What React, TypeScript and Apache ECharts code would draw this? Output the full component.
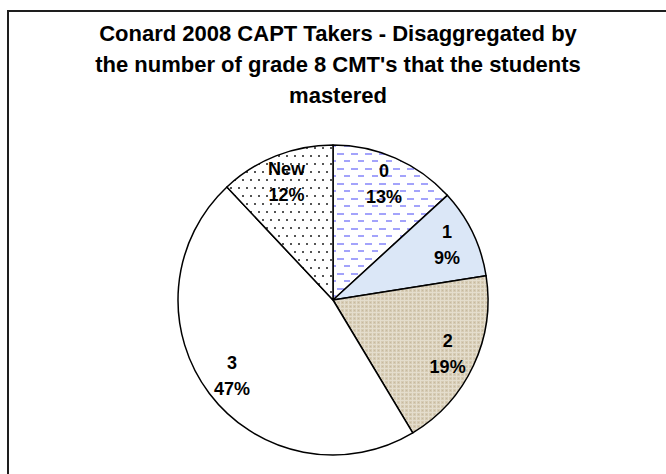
import React, { useEffect, useRef } from "react";
import * as echarts from "echarts";

const categories = ["0", "1", "2", "3", "New"];
const shares = [13.2, 9.3, 18.9, 46.6, 12.0];
const titleLines = [
  "Conard 2008 CAPT Takers - Disaggregated by",
  "the number of grade 8 CMT's that the students",
  "mastered",
];

function makeCanvas(w: number, h: number, draw: (ctx: CanvasRenderingContext2D) => void) {
  const c = document.createElement("canvas");
  c.width = w;
  c.height = h;
  const ctx = c.getContext("2d") as CanvasRenderingContext2D;
  draw(ctx);
  return c;
}

function makeFills() {
  const dashes = makeCanvas(14, 15, (ctx) => {
    ctx.fillStyle = "#ffffff";
    ctx.fillRect(0, 0, 14, 15);
    ctx.fillStyle = "#a3a3fb";
    ctx.fillRect(1, 3, 7, 2);
    ctx.fillRect(8, 10, 7, 2);
  });
  const dots = makeCanvas(8, 16, (ctx) => {
    ctx.fillStyle = "#ffffff";
    ctx.fillRect(0, 0, 8, 16);
    ctx.fillStyle = "#555555";
    ctx.fillRect(2, 3, 2, 2);
    ctx.fillRect(6, 11, 2, 2);
  });
  const burlap = makeCanvas(4, 4, (ctx) => {
    ctx.fillStyle = "#d6cbb4";
    ctx.fillRect(0, 0, 4, 4);
    ctx.fillStyle = "#e4ddcd";
    ctx.fillRect(0, 0, 1, 4);
    ctx.fillRect(0, 0, 4, 1);
    ctx.fillStyle = "#c6b99f";
    ctx.fillRect(2, 2, 1, 1);
  });
  return [
    { image: dashes, repeat: "repeat" },
    "#dbe7f7",
    { image: burlap, repeat: "repeat" },
    "#ffffff",
    { image: dots, repeat: "repeat" },
  ];
}

export default function App() {
  const ref = useRef<HTMLDivElement>(null);
  useEffect(() => {
    if (!ref.current) return;
    const chart = echarts.init(ref.current, null, { renderer: "svg" });
    const fills = makeFills();
    const font = "'Liberation Sans', Arial, sans-serif";
    const option: any = {
      animation: false,
      backgroundColor: "#ffffff",
      graphic: [
        {
          type: "rect",
          shape: { x: 8, y: 11, width: 700, height: 500 },
          style: { fill: "none", stroke: "#1e1e1e", lineWidth: 2 },
          silent: true,
          z: 0,
        },
        {
          type: "text",
          x: 338,
          y: 18,
          style: {
            text: titleLines.join("\n"),
            textAlign: "center",
            textVerticalAlign: "top",
            fontFamily: font,
            fontWeight: "bold",
            fontSize: 22,
            lineHeight: 31,
            fill: "#000000",
          },
          silent: true,
        },
      ],
      series: [
        {
          type: "pie",
          center: [333, 300],
          radius: [0, 155],
          startAngle: 90,
          clockwise: true,
          silent: true,
          label: { show: false },
          labelLine: { show: false },
          itemStyle: { borderColor: "#000000", borderWidth: 1.5 },
          emphasis: { disabled: true },
          data: categories.map((c, i) => ({
            name: c,
            value: shares[i],
            itemStyle: { color: fills[i] },
          })),
          z: 2,
        },
        {
          type: "pie",
          center: [333, 300],
          radius: [92, 155],
          startAngle: 90,
          clockwise: true,
          silent: true,
          percentPrecision: 0,
          itemStyle: { color: "rgba(0,0,0,0)", borderWidth: 0 },
          emphasis: { disabled: true },
          labelLine: { show: false },
          label: {
            show: true,
            position: "inside",
            formatter: "{b}\n{d}%",
            fontFamily: font,
            fontWeight: "bold",
            fontSize: 18,
            lineHeight: 26,
            color: "#000000",
            textBorderWidth: 0,
            textBorderColor: "transparent",
          },
          data: categories.map((c, i) => ({ name: c, value: shares[i] })),
          z: 3,
        },
      ],
    };
    chart.setOption(option);
    return () => chart.dispose();
  }, []);
  return (
    <div
      ref={ref}
      style={{ position: "fixed", left: 0, top: 0, width: 666, height: 474 }}
    />
  );
}
